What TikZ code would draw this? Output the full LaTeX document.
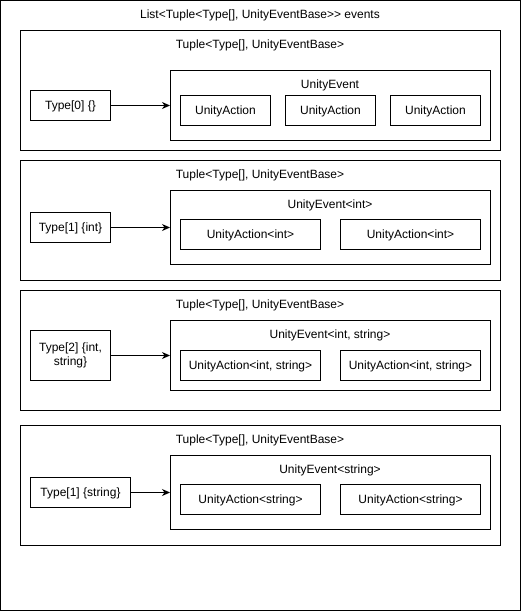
\documentclass[tikz,border=0pt]{standalone}
\usepackage{fontspec}
\setmainfont{Liberation Sans}
\usetikzlibrary{arrows.meta}
\begin{document}
\begin{tikzpicture}[x=1pt,y=-1pt,
  every node/.style={font=\fontsize{12}{14}\selectfont, inner sep=0pt},
  one/.style={text height=8.6pt, text depth=0pt},
  box/.style={draw, line width=1pt, rectangle, minimum height=30pt, align=center},
  frame/.style={draw, line width=1pt, rectangle},
  lbl/.style={anchor=center, one},
  conn/.style={line width=1pt, -{Stealth[length=8pt,width=7pt,inset=2.5pt]}}]
\useasboundingbox (0,0) rectangle (521,611);
\node[frame, minimum width=520pt, minimum height=610pt] (outer) at (260.5,305.5) {};
\node[lbl] (outerlbl) at (260,14) {List<Tuple<Type[], UnityEventBase>{}> events};

% Tuple 1
\node[frame, minimum width=480pt, minimum height=120pt] (tup1) at (260.5,90.5) {};
\node[lbl] (tup1lbl) at (260,44) {Tuple<Type[], UnityEventBase>};
\node[box, one, minimum width=80pt] (typ1) at (70.5,105.5) {Type[0] \{\}};
\node[frame, minimum width=320pt, minimum height=70pt] (ev1) at (330.5,105.5) {};
\node[lbl] (ev1lbl) at (330,84) {UnityEvent};
\node[box, one, minimum width=90pt] (a11) at (225.5,110.5) {UnityAction};
\node[box, one, minimum width=90pt] (a12) at (330.5,110.5) {UnityAction};
\node[box, one, minimum width=90pt] (a13) at (435.5,110.5) {UnityAction};
\draw[conn] (typ1.east) -- (typ1.east -| ev1.west);

% Tuple 2
\node[frame, minimum width=480pt, minimum height=120pt] (tup2) at (260.5,220.5) {};
\node[lbl] (tup2lbl) at (260,174) {Tuple<Type[], UnityEventBase>};
\node[box, one, minimum width=80pt] (typ2) at (70.5,227.5) {Type[1] \{int\}};
\node[frame, minimum width=320pt, minimum height=74pt] (ev2) at (330.5,227.5) {};
\node[lbl] (ev2lbl) at (330,204) {UnityEvent<int>};
\node[box, one, minimum width=140pt] (a21) at (250.5,234.5) {UnityAction<int>};
\node[box, one, minimum width=140pt] (a22) at (410.5,234.5) {UnityAction<int>};
\draw[conn] (typ2.east) -- (typ2.east -| ev2.west);

% Tuple 3
\node[frame, minimum width=480pt, minimum height=120pt] (tup3) at (260.5,350.5) {};
\node[lbl] (tup3lbl) at (260,304) {Tuple<Type[], UnityEventBase>};
\node[box, minimum width=80pt, minimum height=50pt] (typ3) at (70.5,355.5) {Type[2] \{int,\\string\}};
\node[frame, minimum width=320pt, minimum height=70pt] (ev3) at (330.5,355.5) {};
\node[lbl] (ev3lbl) at (330,334) {UnityEvent<int, string>};
\node[box, one, minimum width=140pt] (a31) at (250.5,365.5) {UnityAction<int, string>};
\node[box, one, minimum width=140pt] (a32) at (410.5,365.5) {UnityAction<int, string>};
\draw[conn] (typ3.east) -- (typ3.east -| ev3.west);

% Tuple 4
\node[frame, minimum width=480pt, minimum height=120pt] (tup4) at (260.5,485.5) {};
\node[lbl] (tup4lbl) at (260,439) {Tuple<Type[], UnityEventBase>};
\node[box, one, minimum width=100pt] (typ4) at (80.5,492.5) {Type[1] \{string\}};
\node[frame, minimum width=320pt, minimum height=74pt] (ev4) at (330.5,492.5) {};
\node[lbl] (ev4lbl) at (330,469) {UnityEvent<string>};
\node[box, one, minimum width=140pt] (a41) at (250.5,499.5) {UnityAction<string>};
\node[box, one, minimum width=140pt] (a42) at (410.5,499.5) {UnityAction<string>};
\draw[conn] (typ4.east) -- (typ4.east -| ev4.west);
\end{tikzpicture}
\end{document}
